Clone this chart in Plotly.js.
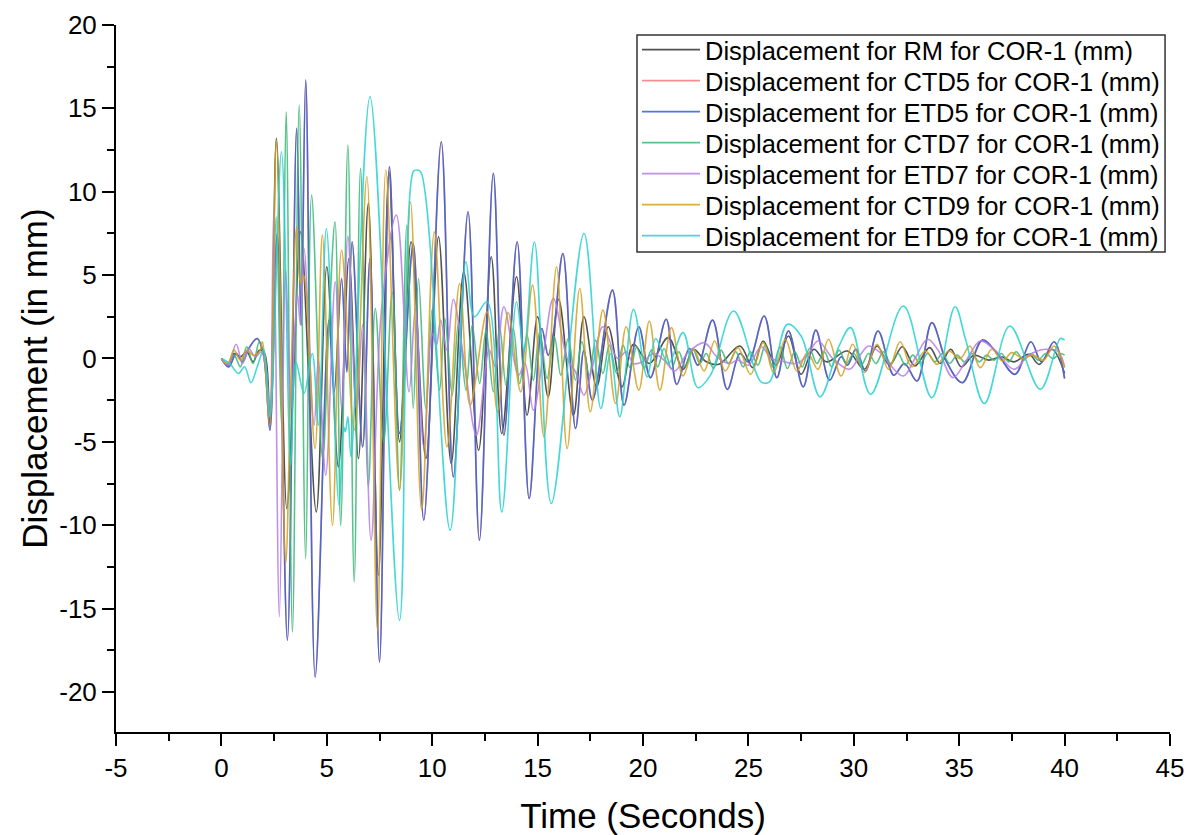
<!DOCTYPE html>
<html>
<head>
<meta charset="utf-8">
<script src="https://cdn.plot.ly/plotly-3.0.1.min.js"></script>
<style>
html,body{margin:0;padding:0;background:#fff;}
#chart{width:1186px;height:835px;}
</style>
</head>
<body>
<div id="chart"></div>
<script>
// Series names (legend labels)
const seriesNames = [
  "Displacement for RM for COR-1 (mm)",
  "Displacement for CTD5 for COR-1 (mm)",
  "Displacement for ETD5 for COR-1 (mm)",
  "Displacement for CTD7 for COR-1 (mm)",
  "Displacement for ETD7 for COR-1 (mm)",
  "Displacement for CTD9 for COR-1 (mm)",
  "Displacement for ETD9 for COR-1 (mm)"
];

// [time (s), displacement (mm)] – turning points
const rmPts = [[0,0],[0.3,-0.4],[0.6,0.3],[0.9,0.1],[1.2,0.4],[1.5,-0.2],[1.8,0.5],[2.05,0.3],[2.3,-4.0],[2.61,13.2],[3.1,-9.0],[3.4,-2.0],[3.76,7.6],[4.5,-9.2],[5.0,5.5],[5.55,-6.5],[6.05,6.0],[6.5,-6.0],[6.97,9.3],[7.45,-13.0],[7.95,11.2],[8.45,-5.0],[9.0,7.0],[9.7,-6.0],[10.3,7.3],[10.9,-6.3],[11.5,5.2],[12.2,-5.5],[12.8,6.1],[13.3,-4.5],[14.0,4.9],[14.5,-3.4],[15.0,2.5],[15.5,-2.3],[16.0,3.55],[16.7,-3.4],[17.2,2.5],[17.8,-1.7],[18.35,1.9],[19.0,-1.7],[19.55,0.85],[20.3,-0.3],[21.2,1.25],[21.9,-0.65],[22.4,0.55],[23.0,-0.2],[23.6,-0.35],[24.6,0.75],[25.2,-0.55],[25.7,1.05],[26.3,-0.4],[26.9,1.35],[27.5,-0.95],[28.1,0.55],[28.7,-0.2],[29.7,0.45],[30.5,-0.65],[31.1,0.75],[31.7,-0.4],[32.3,0.7],[32.9,-0.45],[33.6,0.65],[34.1,-0.3],[34.6,0.55],[35.1,-0.5],[35.7,0.2],[36.4,-0.1],[37.0,0.1],[37.6,-0.2],[38.3,0.25],[38.8,-0.35],[39.4,0.55],[40.0,-0.9]];

const etd5Pts = [[0,0],[0.35,-0.5],[0.7,0.3],[1.0,-0.2],[1.3,0.6],[1.7,1.2],[2.0,0.2],[2.3,-4.3],[2.65,7.5],[3.13,-16.9],[3.57,13.8],[3.78,2.0],[4.0,16.7],[4.45,-19.1],[5.1,2.3],[5.35,-2.0],[5.7,4.8],[5.95,-0.8],[6.2,7.0],[6.7,-5.3],[7.05,6.0],[7.5,-18.2],[7.97,11.5],[8.45,-4.5],[9.1,6.9],[9.6,-9.7],[10.43,13.0],[11.0,-7.1],[11.7,8.8],[12.24,-10.9],[12.9,11.1],[13.4,-4.6],[14.03,7.0],[14.6,-8.4],[15.2,1.8],[15.5,0.2],[15.75,1.5],[16.2,6.3],[16.8,-4.2],[17.2,0.5],[17.6,-2.5],[18.55,4.1],[19.1,-2.8],[19.8,1.9],[20.35,-1.15],[21.1,2.35],[21.6,-1.55],[22.2,0.6],[22.6,-0.4],[23.3,2.3],[24.0,-1.85],[24.6,0.3],[25.0,-0.2],[25.75,2.55],[26.35,-1.15],[26.9,1.65],[27.6,-1.7],[28.2,1.7],[28.85,-1.3],[29.4,0.1],[29.7,-0.4],[30.1,0.55],[30.55,-0.75],[31.15,1.65],[31.9,-1.0],[32.4,-0.3],[33.0,-1.35],[33.7,2.15],[34.4,-0.2],[35.15,-1.45],[36.1,1.1],[36.8,0.3],[37.65,-0.95],[38.4,1.0],[38.9,-0.2],[39.5,1.0],[40.0,-1.2]];

// CTD5 coincides with ETD5 in the reference (fully hidden beneath it)
const ctd5Pts = etd5Pts;

const ctd7Pts = [[0,0],[0.3,-0.3],[0.6,0.2],[0.9,-0.5],[1.2,0.7],[1.5,-0.3],[1.8,1.0],[2.05,0.2],[2.3,-3.5],[2.6,8.5],[2.85,-4.0],[3.07,14.8],[3.37,-16.4],[3.69,15.2],[4.0,-12.0],[4.28,9.8],[4.8,-6.0],[5.1,2.0],[5.39,8.2],[5.66,-10.0],[6.0,12.8],[6.3,-13.4],[6.6,11.4],[6.97,-7.7],[7.3,3.0],[7.7,-5.0],[8.1,4.0],[8.45,-7.9],[8.8,8.0],[9.1,-3.0],[9.35,4.8],[9.7,-3.0],[10.0,2.95],[10.35,-1.9],[10.6,2.4],[10.95,-2.2],[11.25,2.2],[11.6,-1.9],[11.9,2.0],[12.25,-1.5],[12.55,1.7],[12.9,-2.0],[13.2,1.9],[13.5,-1.6],[13.85,1.8],[14.15,-1.5],[14.5,1.4],[14.8,-1.3],[15.1,1.6],[15.45,-1.2],[15.8,1.3],[16.1,-1.0],[16.45,1.2],[16.8,-1.3],[17.1,1.0],[17.45,-1.0],[17.75,1.1],[18.1,-0.9],[18.4,0.8],[18.75,-0.9],[19.05,0.8],[19.4,-0.6],[19.7,0.7],[20.05,-0.6],[20.4,0.5],[20.7,-0.5],[21.0,0.6],[21.35,-0.6],[21.7,0.4],[22.0,-0.5],[22.35,0.6],[22.7,-0.3],[23.0,0.3],[23.35,-0.6],[23.7,0.5],[24.05,-0.3],[24.4,0.4],[24.75,-0.5],[25.1,0.4],[25.45,-0.4],[25.8,0.8],[26.15,-0.5],[26.5,0.7],[26.85,-0.6],[27.2,0.4],[27.55,-0.5],[27.9,0.6],[28.25,-0.3],[28.6,0.4],[28.95,-0.5],[29.3,0.5],[29.65,-0.3],[30.0,0.3],[30.35,-0.4],[30.7,0.3],[31.05,-0.3],[31.4,0.4],[31.75,-0.3],[32.1,0.3],[32.45,-0.4],[32.8,0.2],[33.15,-0.3],[33.5,0.3],[33.85,-0.2],[34.2,0.3],[34.55,-0.3],[34.9,0.2],[35.25,-0.2],[35.6,0.3],[35.95,-0.2],[36.3,0.2],[36.65,-0.1],[37.0,0.3],[37.35,-0.2],[37.7,0.4],[38.05,-0.1],[38.4,0.3],[38.75,-0.1],[39.1,0.3],[39.45,0.0],[39.8,0.3],[40.0,0.2]];

const etd7Pts = [[0,0],[0.3,-0.4],[0.7,0.85],[1.0,-0.3],[1.3,0.6],[1.6,0.1],[1.9,0.4],[2.1,-0.5],[2.3,-3.5],[2.48,8.8],[2.75,-15.5],[3.05,5.3],[3.3,-3.0],[3.6,3.9],[3.75,2.0],[3.92,6.6],[4.4,-4.0],[4.6,0.0],[4.95,-7.0],[5.4,4.6],[5.7,-3.0],[6.0,7.35],[6.4,-3.0],[6.7,2.0],[7.1,-10.9],[7.6,3.0],[8.3,8.6],[8.9,-2.0],[9.2,3.0],[9.6,-5.3],[10.0,1.5],[10.2,0.8],[10.4,2.3],[10.7,0.5],[11.0,3.55],[11.5,0.0],[12.1,-4.6],[12.7,0.5],[13.0,-0.5],[13.4,3.1],[14.1,-1.0],[14.4,-0.3],[14.8,-3.1],[15.3,0.5],[15.75,3.6],[16.4,0.0],[16.8,-0.8],[17.2,-2.2],[17.6,-0.5],[18.1,1.9],[18.8,0.0],[19.2,0.4],[19.55,-0.3],[20.0,-0.2],[20.5,0.3],[21.0,-0.1],[21.5,-0.75],[22.1,0.3],[22.9,0.95],[23.5,0.1],[24.1,-0.3],[24.5,-0.1],[25.0,-0.4],[25.6,0.7],[26.1,0.0],[26.7,-0.2],[27.3,-0.3],[27.8,0.2],[28.3,1.05],[29.0,0.0],[29.8,-0.65],[30.3,0.2],[30.7,0.75],[31.3,0.3],[31.7,-0.35],[32.35,-1.05],[32.9,0.0],[33.5,1.15],[34.0,0.5],[34.7,-1.15],[35.3,-0.2],[36.0,1.05],[36.7,0.5],[37.6,-0.65],[38.3,0.2],[39.1,0.55],[39.7,0.4],[40.0,-0.5]];

const ctd9Pts = [[0,0],[0.3,-0.3],[0.6,0.5],[0.9,-0.1],[1.2,0.5],[1.5,0.2],[1.8,0.4],[1.95,1.0],[2.29,-4.0],[2.61,13.1],[3.05,-12.3],[3.3,-1.0],[3.57,7.9],[3.75,4.5],[3.9,5.0],[4.44,-5.4],[4.79,7.4],[5.27,-10.0],[5.7,6.5],[6.3,-4.3],[6.9,10.9],[7.4,-16.3],[7.8,11.3],[8.45,-7.9],[8.97,9.4],[9.5,-9.1],[10.1,7.6],[10.7,-5.3],[11.3,4.5],[11.8,-2.8],[12.6,2.8],[13.1,-3.2],[13.6,2.75],[14.2,-2.0],[14.76,4.4],[15.3,-4.7],[15.9,5.5],[16.4,-5.4],[17.0,4.2],[17.5,-3.2],[18.1,2.9],[18.7,-2.7],[19.2,1.9],[19.8,-1.9],[20.3,2.25],[20.8,-1.9],[21.35,1.85],[21.9,-1.05],[22.4,0.55],[22.9,-0.75],[23.4,1.05],[23.9,-0.75],[24.5,0.65],[25.1,-0.95],[25.7,0.95],[26.2,-0.85],[26.75,1.15],[27.3,-0.75],[27.8,0.35],[28.3,-0.65],[28.8,1.15],[29.4,-1.05],[29.95,0.85],[30.5,-0.85],[31.1,0.85],[31.65,-0.65],[32.2,1.0],[32.75,-0.5],[33.4,0.45],[33.95,-0.35],[34.5,0.45],[35.05,0.0],[35.5,0.75],[36.0,-0.55],[36.55,0.55],[37.05,-0.15],[37.5,0.35],[38.0,0.0],[38.5,0.2],[39.0,-0.1],[39.5,0.75],[40.0,-0.55]];

const etd9Pts = [[0,0],[0.4,-0.3],[0.8,-0.9],[1.1,-0.5],[1.4,-1.45],[1.7,-0.5],[2.0,0.5],[2.3,-3.5],[2.85,12.4],[3.29,-6.4],[3.53,-0.2],[3.92,-2.1],[4.31,0.3],[4.6,-4.0],[4.98,7.8],[5.58,-8.8],[5.8,-4.1],[5.88,-4.4],[6.0,-3.5],[6.15,-5.9],[7.05,15.7],[8.45,-15.7],[9.1,11.2],[9.25,11.3],[9.45,11.2],[10.85,-10.3],[11.6,5.8],[12.0,2.5],[12.6,3.4],[13.3,-9.2],[14.0,3.4],[14.35,0.5],[14.85,7.0],[15.65,-8.7],[17.2,7.5],[18.0,-3.0],[18.45,0.3],[18.9,-3.5],[19.55,2.95],[20.2,-1.1],[20.6,1.2],[21.2,-0.3],[21.9,1.55],[22.6,-1.75],[23.2,-1.0],[24.3,2.85],[25.6,-1.4],[26.0,-1.4],[26.85,2.05],[27.5,1.35],[28.4,-2.3],[29.3,0.75],[29.85,1.85],[30.8,-2.15],[32.35,3.15],[33.7,-2.35],[34.8,3.1],[35.3,1.15],[36.2,-2.7],[37.4,1.95],[38.85,-1.85],[39.8,1.2],[40.0,1.1]];

const seriesPts = [rmPts, ctd5Pts, etd5Pts, ctd7Pts, etd7Pts, ctd9Pts, etd9Pts];
const seriesColors = ["#333333", "#f47a7a", "#2f62d6", "#3cb878", "#b57ee6", "#d4a020", "#25d2d2"];

const xTickVals = [-5,0,5,10,15,20,25,30,35,40,45];
const yTickVals = [-20,-15,-10,-5,0,5,10,15,20];

const legendIds = seriesNames.map((_, i) => i === 0 ? 'legend' : 'legend' + (i + 1));

const traces = seriesPts.map((pts, i) => ({
  type: 'scatter',
  mode: 'lines',
  name: seriesNames[i],
  legend: legendIds[i],
  x: pts.map(p => p[0]),
  y: pts.map(p => p[1]),
  line: {color: seriesColors[i], width: 1.6, shape: 'spline', smoothing: 1.0},
  opacity: 0.85
}));

const fontFam = 'Arial, "Liberation Sans", sans-serif';

// plot area: top 25px, bottom 732px (height 707); legend rows every 31px from 50px
const plotTop = 25, plotH = 707;
const layout = {
  width: 1186, height: 835,
  paper_bgcolor: '#fff', plot_bgcolor: '#fff',
  margin: {l: 116, r: 16, t: plotTop, b: 835 - plotTop - plotH},
  font: {family: fontFam, color: '#000'},
  showlegend: true,
  shapes: [{
    type: 'rect', xref: 'paper', yref: 'paper', layer: 'above',
    x0: 0.4943, x1: 0.9953,
    y0: (plotTop + plotH - 252) / plotH, y1: (plotTop + plotH - 35) / plotH,
    line: {color: '#333', width: 1.5}, fillcolor: '#fff'
  }],
  xaxis: {
    range: [-5, 45], tickvals: xTickVals, ticktext: xTickVals.map(String),
    showline: true, linecolor: '#000', linewidth: 2, mirror: false,
    ticks: 'outside', ticklen: 12, tickwidth: 2, tickcolor: '#000',
    minor: {ticks: 'outside', dtick: 2.5, ticklen: 7, tickwidth: 2, tickcolor: '#000'},
    showgrid: false, zeroline: false,
    tickfont: {family: fontFam, size: 26, color: '#000'},
    title: {text: 'Time (Seconds)', font: {family: fontFam, size: 35, color: '#000'}, standoff: 22}
  },
  yaxis: {
    range: [-22.4, 20], tickvals: yTickVals, ticktext: yTickVals.map(String),
    showline: true, linecolor: '#000', linewidth: 2, mirror: false,
    ticks: 'outside', ticklen: 12, tickwidth: 2, tickcolor: '#000',
    minor: {ticks: 'outside', dtick: 2.5, ticklen: 7, tickwidth: 2, tickcolor: '#000'},
    showgrid: false, zeroline: false,
    tickfont: {family: fontFam, size: 26, color: '#000'},
    title: {text: 'Displacement (in mm)', font: {family: fontFam, size: 35, color: '#000'}, standoff: 1}
  }
};

legendIds.forEach((id, i) => {
  const rowCenter = 50 + 31 * i;
  layout[id] = {
    x: 0.4943, xanchor: 'left',
    y: (plotTop + plotH - rowCenter) / plotH, yanchor: 'middle',
    bgcolor: 'rgba(0,0,0,0)', borderwidth: 0,
    font: {family: fontFam, size: 25.5, color: '#000'},
    itemwidth: 58
  };
});

Plotly.newPlot('chart', traces, layout, {displayModeBar: false, responsive: false});
</script>
</body>
</html>
